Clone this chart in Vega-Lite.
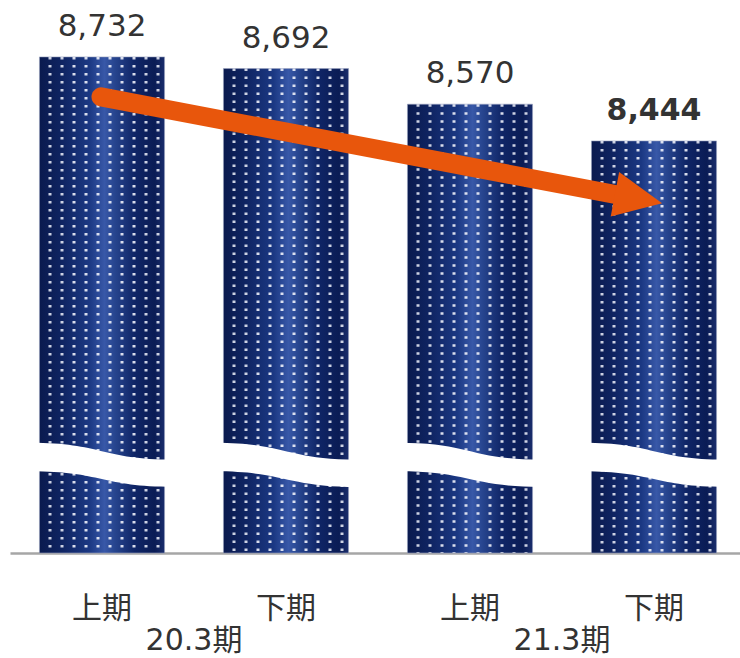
{
  "$schema": "https://vega.github.io/schema/vega-lite/v6.json",
  "width": 740,
  "height": 553,
  "autosize": {"type": "none"},
  "padding": {"left": 0, "top": 0, "right": 0, "bottom": 105},
  "background": "white",
  "config": {"view": {"stroke": null}},
  "data": {
    "values": [
      {"cat": "20.3期 上期", "year": "20.3期", "half": "上期", "value": 8732},
      {"cat": "20.3期 下期", "year": "20.3期", "half": "下期", "value": 8692},
      {"cat": "21.3期 上期", "year": "21.3期", "half": "上期", "value": 8570},
      {"cat": "21.3期 下期", "year": "21.3期", "half": "下期", "value": 8444}
    ]
  },
  "layer": [
    {
      "mark": {
        "type": "bar",
        "color": {
          "gradient": "linear",
          "x1": 0, "x2": 1, "y1": 0, "y2": 0,
          "stops": [
            {"offset": 0, "color": "#0a1a4e"},
            {"offset": 0.18, "color": "#0f2462"},
            {"offset": 0.4, "color": "#1b3883"},
            {"offset": 0.52, "color": "#3858a8"},
            {"offset": 0.6, "color": "#27458f"},
            {"offset": 0.76, "color": "#0f2566"},
            {"offset": 0.92, "color": "#0a1c55"},
            {"offset": 1, "color": "#1a2d6c"}
          ]
        },
        "stroke": "#9aa3bf",
        "strokeWidth": 0.6
      },
      "encoding": {
        "x": {
          "field": "cat", "type": "nominal", "sort": null,
          "scale": {"type": "band", "range": [10, 746], "paddingInner": 0.32, "paddingOuter": 0.16},
          "axis": {
            "title": null,
            "labelExpr": "split(datum.label, ' ')[1]",
            "labelAngle": 0,
            "labelFont": "DejaVu Sans, Noto Sans CJK JP",
            "labelFontSize": 30,
            "labelColor": "#333333",
            "labelPadding": 40,
            "ticks": false,
            "domainColor": "#a6a6a6",
            "domainWidth": 2.5,
            "grid": false
          }
        },
        "y": {
          "field": "value", "type": "quantitative",
          "scale": {"domain": [7032, 8927], "zero": false, "nice": false},
          "axis": null
        },
        "y2": {"datum": 7032}
      }
    },
    {"mark": {"type": "rule", "xOffset": -52, "color": "#eef1fa", "strokeWidth": 3, "strokeDash": [2.5, 5.5], "opacity": 0.85}, "encoding": {"x": {"field": "cat", "type": "nominal", "sort": null}, "y": {"field": "value", "type": "quantitative"}, "y2": {"datum": 7032}}},
    {"mark": {"type": "rule", "xOffset": -40, "color": "#eef1fa", "strokeWidth": 3, "strokeDash": [2.5, 5.5], "opacity": 0.85}, "encoding": {"x": {"field": "cat", "type": "nominal", "sort": null}, "y": {"field": "value", "type": "quantitative"}, "y2": {"datum": 7032}}},
    {"mark": {"type": "rule", "xOffset": -28, "color": "#eef1fa", "strokeWidth": 3, "strokeDash": [2.5, 5.5], "opacity": 0.9}, "encoding": {"x": {"field": "cat", "type": "nominal", "sort": null}, "y": {"field": "value", "type": "quantitative"}, "y2": {"datum": 7032}}},
    {"mark": {"type": "rule", "xOffset": -16, "color": "#eef1fa", "strokeWidth": 3, "strokeDash": [2.5, 5.5], "opacity": 0.9}, "encoding": {"x": {"field": "cat", "type": "nominal", "sort": null}, "y": {"field": "value", "type": "quantitative"}, "y2": {"datum": 7032}}},
    {"mark": {"type": "rule", "xOffset": -4, "color": "#eef1fa", "strokeWidth": 3, "strokeDash": [2.5, 5.5], "opacity": 0.9}, "encoding": {"x": {"field": "cat", "type": "nominal", "sort": null}, "y": {"field": "value", "type": "quantitative"}, "y2": {"datum": 7032}}},
    {"mark": {"type": "rule", "xOffset": 8, "color": "#eef1fa", "strokeWidth": 3, "strokeDash": [2.5, 5.5], "opacity": 0.9}, "encoding": {"x": {"field": "cat", "type": "nominal", "sort": null}, "y": {"field": "value", "type": "quantitative"}, "y2": {"datum": 7032}}},
    {"mark": {"type": "rule", "xOffset": 20, "color": "#eef1fa", "strokeWidth": 3, "strokeDash": [2.5, 5.5], "opacity": 0.9}, "encoding": {"x": {"field": "cat", "type": "nominal", "sort": null}, "y": {"field": "value", "type": "quantitative"}, "y2": {"datum": 7032}}},
    {"mark": {"type": "rule", "xOffset": 32, "color": "#eef1fa", "strokeWidth": 3, "strokeDash": [2.5, 5.5], "opacity": 0.9}, "encoding": {"x": {"field": "cat", "type": "nominal", "sort": null}, "y": {"field": "value", "type": "quantitative"}, "y2": {"datum": 7032}}},
    {"mark": {"type": "rule", "xOffset": 44, "color": "#eef1fa", "strokeWidth": 3, "strokeDash": [2.5, 5.5], "opacity": 0.85}, "encoding": {"x": {"field": "cat", "type": "nominal", "sort": null}, "y": {"field": "value", "type": "quantitative"}, "y2": {"datum": 7032}}},
    {"mark": {"type": "rule", "xOffset": 56, "color": "#eef1fa", "strokeWidth": 3, "strokeDash": [2.5, 5.5], "opacity": 0.85}, "encoding": {"x": {"field": "cat", "type": "nominal", "sort": null}, "y": {"field": "value", "type": "quantitative"}, "y2": {"datum": 7032}}},
    {
      "mark": {
        "type": "point",
        "shape": "M-1.1,-0.34 C0,-0.34 0,-0.08 1.1,-0.08 L1.1,0.34 C0,0.34 0,0.1 -1.1,0.1 Z",
        "size": 16900,
        "filled": true,
        "fill": "white",
        "strokeWidth": 0,
        "opacity": 1
      },
      "encoding": {
        "x": {"field": "cat", "type": "nominal", "sort": null},
        "y": {"datum": 7334, "type": "quantitative"}
      }
    },
    {
      "transform": [{"filter": "datum.cat !== '21.3期 下期'"}],
      "mark": {
        "type": "text",
        "dy": -21,
        "baseline": "alphabetic",
        "align": "center",
        "font": "DejaVu Sans",
        "fontSize": 31,
        "color": "#333333"
      },
      "encoding": {
        "x": {"field": "cat", "type": "nominal", "sort": null},
        "y": {"field": "value", "type": "quantitative"},
        "text": {"field": "value", "type": "quantitative", "format": ","}
      }
    },
    {
      "transform": [{"filter": "datum.cat === '21.3期 下期'"}],
      "mark": {
        "type": "text",
        "dy": -21,
        "baseline": "alphabetic",
        "align": "center",
        "font": "DejaVu Sans",
        "fontSize": 30,
        "fontWeight": "bold",
        "color": "#333333"
      },
      "encoding": {
        "x": {"field": "cat", "type": "nominal", "sort": null},
        "y": {"field": "value", "type": "quantitative"},
        "text": {"field": "value", "type": "quantitative", "format": ","}
      }
    },
    {
      "transform": [{"filter": "datum.half === '上期'"}],
      "mark": {
        "type": "text",
        "xOffset": 92,
        "baseline": "alphabetic",
        "align": "center",
        "font": "DejaVu Sans, Noto Sans CJK JP",
        "fontSize": 30,
        "color": "#333333"
      },
      "encoding": {
        "x": {"field": "cat", "type": "nominal", "sort": null},
        "y": {"datum": 6700, "type": "quantitative"},
        "text": {"field": "year", "type": "nominal"}
      }
    },
    {
      "transform": [{"filter": "datum.half === '上期'"}, {"pivot": "cat", "value": "value"}],
      "mark": {
        "type": "rule",
        "color": "#e8560c",
        "strokeWidth": 19,
        "strokeCap": "round",
        "xOffset": -1,
        "x2Offset": -24
      },
      "encoding": {
        "x": {"datum": "20.3期 上期", "type": "nominal"},
        "x2": {"datum": "21.3期 下期"},
        "y": {"datum": 8595, "type": "quantitative"},
        "y2": {"datum": 8251}
      }
    },
    {
      "transform": [{"filter": "datum.half === '上期'"}, {"pivot": "cat", "value": "value"}],
      "mark": {
        "type": "point",
        "shape": "M1,0 L-1,-0.94 L-1,0.94 Z",
        "size": 2304,
        "angle": 10.8,
        "filled": true,
        "fill": "#e8560c",
        "strokeWidth": 0,
        "opacity": 1,
        "xOffset": -15.5
      },
      "encoding": {
        "x": {"datum": "21.3期 下期", "type": "nominal"},
        "y": {"datum": 8246, "type": "quantitative"}
      }
    }
  ]
}
